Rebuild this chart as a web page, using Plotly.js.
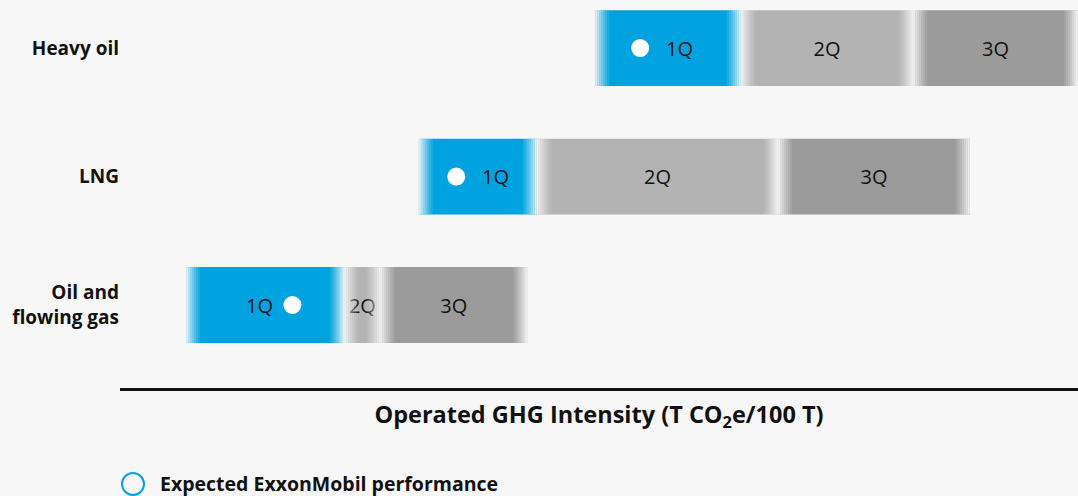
<!DOCTYPE html>
<html>
<head>
<meta charset="utf-8">
<script src="https://cdn.plot.ly/plotly-3.0.1.min.js"></script>
<style>html,body{margin:0;padding:0;background:#f7f7f7;}#chart{width:1078px;height:496px;}</style>
</head>
<body>
<div id="chart"></div>
<script>
// ---- data (x axis unlabelled, 0-100 scale) ----
const categories = ['Heavy oil', 'LNG', 'Oil and<br>flowing gas'];
const rangeLow   = [49.6, 31.2, 6.9];   // start of 1st quartile
const q1End      = [64.8, 43.5, 23.4];  // end of 1Q
const q2End      = [82.8, 68.7, 27.2];  // end of 2Q
const q3End      = [100.0, 88.7, 42.5]; // end of 3Q
const expected   = [54.3, 35.1, 18.0];  // expected ExxonMobil performance
const quartileLabels = ['1Q', '2Q', '3Q'];
const legendLabel = 'Expected ExxonMobil performance';
const axisTitle = 'Operated GHG Intensity (T CO<sub>2</sub>e/100 T)';

// ---- style ----
const BG = '#f7f7f7';
const BLUE = '#00a3e0';
const GRAY2 = '#b3b3b3';
const GRAY3 = '#9b9b9b';
const FONT = 'Open Sans, Noto Sans, sans-serif';
const BARW = 0.59;

const segStarts = [rangeLow, q1End, q2End];
const segEnds = [q1End, q2End, q3End];
const segColors = [BLUE, GRAY2, GRAY3];

const traces = [];
segStarts.forEach((starts, s) => {
  const tr = {
    type: 'bar', orientation: 'h',
    y: categories,
    base: starts,
    x: starts.map((v, i) => segEnds[s][i] - v),
    width: BARW,
    marker: {color: segColors[s], line: {width: 0}},
    hoverinfo: 'skip', showlegend: false
  };
  if (s > 0) {
    tr.text = categories.map(() => quartileLabels[s]);
    tr.textposition = 'inside';
    tr.insidetextanchor = 'middle';
    tr.constraintext = 'none';
    tr.insidetextfont = {family: FONT, size: 20, color: '#111'};
  }
  traces.push(tr);
});

// soft fading edges: bands of background colour with decreasing opacity
const pxUnit = 100 / 958;
const stepW = 2 * pxUnit;
const fadeOp = [0.9, 0.75, 0.6, 0.46, 0.33, 0.21, 0.1];
fadeOp.forEach((op, k) => {
  const ys = [], bases = [], lens = [];
  segStarts.forEach((starts, s) => {
    starts.forEach((v, i) => {
      ys.push(categories[i]); bases.push(v + k * stepW); lens.push(stepW);
      ys.push(categories[i]); bases.push(segEnds[s][i] - (k + 1) * stepW); lens.push(stepW);
    });
  });
  traces.push({
    type: 'bar', orientation: 'h', y: ys, base: bases, x: lens, width: BARW,
    marker: {color: BG, opacity: op, line: {width: 0}},
    hoverinfo: 'skip', showlegend: false
  });
});

traces.push({
  type: 'scatter', mode: 'markers', x: expected, y: categories,
  marker: {size: 20, color: '#ffffff', line: {color: BLUE, width: 2}},
  name: legendLabel, showlegend: false, hoverinfo: 'x+y'
});

const annotations = expected.map((v, i) => ({
  x: v, y: categories[i], xref: 'x', yref: 'y', text: quartileLabels[0],
  showarrow: false, xshift: i === 2 ? -33 : 39,
  font: {family: FONT, size: 20, color: '#111'}
}));
annotations.push({
  xref: 'paper', yref: 'paper', x: 0.0397, y: -0.2474, xanchor: 'left', yanchor: 'middle',
  text: legendLabel, showarrow: false,
  font: {family: FONT, size: 19.5, color: '#111', weight: 700}
});

const layout = {
  width: 1078, height: 496,
  margin: {l: 120, r: 0, t: 0, b: 108, pad: 0},
  paper_bgcolor: BG, plot_bgcolor: BG,
  barmode: 'overlay',
  showlegend: false,
  xaxis: {
    range: [0, 100], showgrid: false, zeroline: false, showticklabels: false, ticks: '',
    showline: true, linecolor: '#111', linewidth: 2.5,
    title: {text: axisTitle, standoff: 17, font: {family: FONT, size: 23.5, color: '#111', weight: 700}}
  },
  yaxis: {
    type: 'category', categoryorder: 'array', categoryarray: categories,
    range: [2.646, -0.374], showgrid: false, zeroline: false, showline: false, ticks: '',
    tickfont: {family: FONT, size: 19, color: '#111', weight: 'bold'}
  },
  shapes: [{
    type: 'circle', xref: 'paper', yref: 'paper', xsizemode: 'pixel', ysizemode: 'pixel',
    xanchor: 0.01357, yanchor: -0.2474, x0: -11, x1: 11, y0: -11, y1: 11,
    line: {color: BLUE, width: 2}, fillcolor: 'rgba(0,0,0,0)'
  }],
  annotations: annotations
};

Plotly.newPlot('chart', traces, layout, {displayModeBar: false, staticPlot: true});
</script>
</body>
</html>
